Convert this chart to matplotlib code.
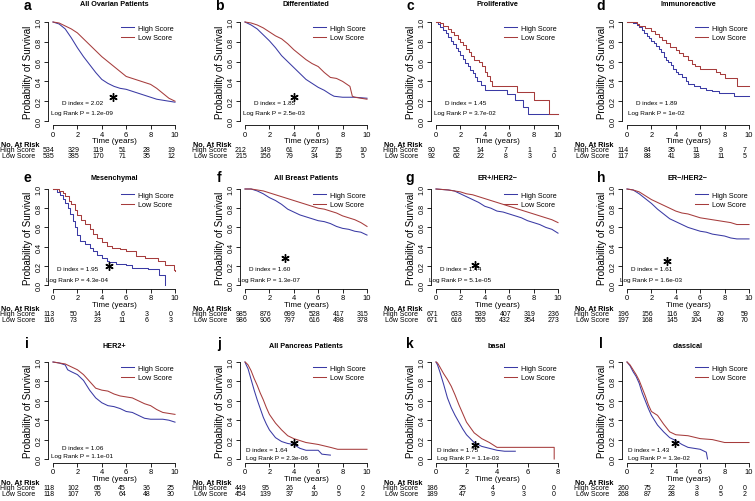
import numpy as np
import matplotlib.pyplot as plt
from matplotlib import transforms

plt.rcParams['font.family'] = ['Liberation Sans', 'DejaVu Sans']

W, H = 755, 502

# ---- data -----------------------------------------------------------------
letters = list('abcdefghijkl')
titles = ['All Ovarian Patients', 'Differentiated', 'Proliferative', 'Immunoreactive',
          'Mesenchymal', 'All Breast Patients', 'ER+/HER2\u2212', 'ER\u2212/HER2\u2212',
          'HER2+', 'All Pancreas Patients', 'basal', 'classical']
d_index = ['2.02', '1.85', '1.45', '1.89', '1.95', '1.60', '1.44', '1.61',
           '1.06', '1.64', '1.75', '1.43']
p_logrank = ['1.2e-09', '2.5e-03', '3.7e-02', '1e-02', '4.3e-04', '1.3e-07',
             '5.1e-05', '1.6e-03', '1.1e-01', '2.3e-06', '1.1e-03', '1.3e-02']
max_time = [10, 10, 10, 10, 10, 10, 10, 10, 10, 10, 8, 10]

risk_high = [[534, 329, 119, 51, 28, 19], [212, 149, 61, 27, 15, 10],
             [90, 52, 14, 7, 1, 1], [114, 84, 35, 11, 9, 7],
             [113, 50, 14, 6, 3, 0], [985, 876, 699, 528, 417, 315],
             [671, 633, 539, 407, 319, 236], [196, 156, 116, 92, 70, 59],
             [118, 102, 65, 45, 36, 25], [449, 95, 26, 4, 0, 0],
             [186, 25, 4, 0, 0], [260, 75, 22, 3, 0, 0]]
risk_low = [[535, 385, 170, 71, 35, 12], [215, 156, 79, 34, 15, 5],
            [92, 62, 22, 8, 3, 0], [117, 88, 41, 18, 11, 5],
            [116, 73, 23, 11, 6, 3], [986, 906, 797, 616, 498, 378],
            [671, 616, 555, 432, 354, 273], [197, 168, 145, 104, 88, 70],
            [118, 107, 76, 64, 48, 30], [454, 139, 37, 10, 5, 2],
            [189, 47, 9, 3, 0], [268, 87, 28, 8, 5, 2]]

# survival curves: (time, survival)
high_a = [(0, 1.0), (0.5, 0.98), (1, 0.93), (1.5, 0.84), (2, 0.74), (2.5, 0.65), (3, 0.57),
          (3.5, 0.49), (4, 0.42), (4.5, 0.38), (5, 0.35), (5.5, 0.33), (6, 0.32), (6.5, 0.30),
          (7, 0.28), (7.5, 0.26), (8, 0.24), (8.5, 0.22), (9, 0.21), (9.5, 0.20), (10, 0.19)]
low_a = [(0, 1.0), (0.5, 0.99), (1, 0.96), (1.5, 0.93), (2, 0.89), (2.5, 0.83), (3, 0.77),
         (3.5, 0.71), (4, 0.65), (4.5, 0.60), (5, 0.55), (5.5, 0.50), (6, 0.45), (6.5, 0.43),
         (7, 0.41), (7.5, 0.39), (8, 0.37), (8.5, 0.33), (9, 0.28), (9.5, 0.23), (10, 0.20)]
high_b = [(0, 1.0), (0.5, 0.97), (1, 0.93), (1.5, 0.87), (2, 0.81), (2.5, 0.74), (3, 0.66),
          (3.5, 0.60), (4, 0.54), (4.5, 0.48), (5, 0.42), (5.5, 0.38), (6, 0.34), (6.5, 0.31),
          (7, 0.27), (7.3, 0.25), (8, 0.24), (9, 0.24), (10, 0.23)]
low_b = [(0, 1.0), (0.5, 0.99), (1, 0.97), (1.5, 0.94), (2, 0.90), (2.5, 0.86), (3, 0.83),
         (3.5, 0.78), (4, 0.72), (4.5, 0.67), (5, 0.62), (5.5, 0.58), (6, 0.55), (6.5, 0.49),
         (7, 0.44), (7.5, 0.43), (8, 0.40), (8.6, 0.35), (8.8, 0.25), (9, 0.24), (10, 0.22)]
high_c = [(0, 1.0), (0.15, 0.98), (0.3, 0.95), (0.6, 0.92), (0.8, 0.89), (1.0, 0.85),
          (1.2, 0.81), (1.4, 0.78), (1.6, 0.74), (1.8, 0.71), (2.0, 0.67), (2.2, 0.63),
          (2.4, 0.59), (2.6, 0.56), (2.8, 0.52), (3.0, 0.48), (3.2, 0.44), (3.4, 0.40),
          (3.7, 0.36), (4.0, 0.31), (5.8, 0.27), (6.5, 0.21), (7.1, 0.14), (7.5, 0.07), (10, 0.07)]
low_c = [(0, 1.0), (0.3, 0.99), (0.6, 0.96), (1.0, 0.93), (1.2, 0.90), (1.5, 0.87),
         (1.8, 0.83), (2.0, 0.80), (2.2, 0.77), (2.5, 0.73), (2.7, 0.70), (2.9, 0.66),
         (3.1, 0.62), (3.5, 0.60), (3.8, 0.56), (4.0, 0.50), (4.2, 0.45), (4.4, 0.40),
         (4.6, 0.35), (6.6, 0.29), (8.0, 0.21), (9.3, 0.07), (10, 0.07)]
high_d = [(0, 1.0), (0.5, 0.99), (0.8, 0.97), (1.0, 0.95), (1.2, 0.92), (1.4, 0.89),
          (1.6, 0.86), (1.8, 0.84), (2.0, 0.81), (2.2, 0.79), (2.4, 0.76), (2.6, 0.73),
          (2.8, 0.70), (3.0, 0.65), (3.2, 0.62), (3.4, 0.60), (3.6, 0.57), (3.8, 0.53),
          (4.0, 0.50), (4.2, 0.47), (4.5, 0.44), (4.8, 0.40), (5.0, 0.37), (5.5, 0.35),
          (6.0, 0.33), (6.5, 0.31), (7.0, 0.30), (7.5, 0.28), (8.8, 0.25), (10, 0.25)]
low_d = [(0, 1.0), (0.8, 0.98), (1.0, 0.96), (1.5, 0.94), (2.0, 0.91), (2.3, 0.88),
         (2.6, 0.85), (2.9, 0.82), (3.2, 0.79), (3.5, 0.75), (4.0, 0.72), (4.3, 0.69),
         (4.6, 0.66), (5.0, 0.62), (5.3, 0.58), (5.6, 0.56), (6.0, 0.53), (7.3, 0.50),
         (7.6, 0.47), (8.0, 0.43), (9.0, 0.35), (10, 0.35)]
high_e = [(0, 1.0), (0.3, 0.97), (0.6, 0.94), (0.8, 0.90), (1.0, 0.85), (1.2, 0.80),
          (1.4, 0.74), (1.6, 0.67), (1.8, 0.60), (2.0, 0.52), (2.2, 0.46), (2.6, 0.43),
          (3.0, 0.39), (3.3, 0.35), (3.6, 0.31), (4.0, 0.28), (4.4, 0.25), (4.6, 0.24),
          (5.2, 0.22), (6.0, 0.21), (6.5, 0.18), (7.8, 0.17), (8.7, 0.10), (9.2, 0.0)]
low_e = [(0, 1.0), (0.5, 0.98), (0.8, 0.96), (1.0, 0.93), (1.3, 0.88), (1.5, 0.84),
         (1.8, 0.78), (2.0, 0.73), (2.3, 0.68), (2.6, 0.64), (3.0, 0.58), (3.3, 0.53),
         (3.6, 0.49), (4.0, 0.45), (4.4, 0.41), (4.8, 0.39), (5.5, 0.37), (6.0, 0.35),
         (6.8, 0.30), (7.5, 0.28), (8.6, 0.25), (9.2, 0.21), (9.9, 0.16), (10, 0.15)]
high_f = [(0, 1.0), (0.5, 1.0), (1, 0.98), (1.5, 0.95), (2, 0.91), (2.5, 0.88), (3, 0.84),
          (3.5, 0.79), (4, 0.76), (4.5, 0.73), (5, 0.71), (5.5, 0.69), (6, 0.67), (6.5, 0.66),
          (7, 0.64), (7.5, 0.61), (8, 0.59), (8.5, 0.58), (9, 0.56), (9.5, 0.55), (10, 0.52)]
low_f = [(0, 1.0), (0.5, 1.0), (1, 0.99), (1.5, 0.98), (2, 0.96), (2.5, 0.94), (3, 0.92),
         (3.5, 0.90), (4, 0.88), (4.5, 0.86), (5, 0.84), (5.5, 0.82), (6, 0.80), (6.5, 0.79),
         (7, 0.77), (7.5, 0.75), (8, 0.72), (8.5, 0.70), (9, 0.68), (9.5, 0.65), (10, 0.61)]
high_g = [(0, 1.0), (1, 0.99), (1.5, 0.98), (2, 0.95), (2.5, 0.92), (3, 0.89), (3.5, 0.86),
          (4, 0.82), (4.5, 0.80), (5, 0.77), (5.5, 0.76), (6, 0.74), (6.5, 0.72), (7, 0.70),
          (7.5, 0.67), (8, 0.65), (8.5, 0.63), (9, 0.60), (9.5, 0.58), (10, 0.54)]
low_g = [(0, 1.0), (1, 0.99), (1.5, 0.98), (2, 0.97), (2.5, 0.95), (3, 0.94), (3.5, 0.92),
         (4, 0.90), (4.5, 0.88), (5, 0.86), (5.5, 0.84), (6, 0.82), (6.5, 0.80), (7, 0.78),
         (7.5, 0.76), (8, 0.74), (8.5, 0.72), (9, 0.70), (9.5, 0.68), (10, 0.65)]
high_h = [(0, 1.0), (0.5, 0.99), (1, 0.95), (1.5, 0.90), (2, 0.85), (2.5, 0.79), (3, 0.74),
          (3.5, 0.69), (4, 0.66), (4.5, 0.63), (5, 0.60), (5.5, 0.58), (6, 0.56), (6.5, 0.55),
          (7, 0.53), (7.5, 0.52), (8, 0.51), (8.5, 0.49), (9, 0.48), (10, 0.48)]
low_h = [(0, 1.0), (0.5, 0.99), (1, 0.97), (1.5, 0.93), (2, 0.89), (2.5, 0.86), (3, 0.83),
         (3.5, 0.80), (4, 0.77), (4.5, 0.75), (5, 0.74), (5.5, 0.72), (6, 0.70), (6.5, 0.69),
         (7, 0.68), (7.5, 0.67), (8, 0.66), (8.5, 0.65), (9, 0.63), (10, 0.63)]
high_i = [(0, 1.0), (0.5, 0.99), (1, 0.97), (1.2, 0.92), (1.5, 0.90), (2, 0.87), (2.5, 0.81),
          (3, 0.71), (3.5, 0.63), (4, 0.58), (4.5, 0.55), (5, 0.54), (5.5, 0.52), (6, 0.49),
          (6.5, 0.48), (7, 0.45), (7.5, 0.42), (8, 0.41), (9, 0.41), (9.5, 0.40), (10, 0.38)]
low_i = [(0, 1.0), (0.5, 0.99), (1, 0.98), (1.5, 0.95), (2, 0.92), (2.5, 0.87), (3, 0.80),
         (3.5, 0.73), (4, 0.71), (4.5, 0.70), (5, 0.67), (5.5, 0.65), (6, 0.64), (6.5, 0.63),
         (7, 0.60), (7.5, 0.57), (8, 0.55), (8.5, 0.51), (9, 0.48), (9.5, 0.47), (10, 0.46)]
high_j = [(0, 1.0), (0.1, 0.97), (0.25, 0.93), (0.5, 0.82), (0.75, 0.71), (1, 0.61),
          (1.25, 0.52), (1.5, 0.43), (1.75, 0.36), (2, 0.30), (2.5, 0.22), (3, 0.18),
          (3.5, 0.16), (4, 0.15), (4.5, 0.11), (5, 0.09), (6, 0.09), (6.3, 0.05), (7, 0.04)]
low_j = [(0, 1.0), (0.1, 0.99), (0.25, 0.97), (0.5, 0.91), (0.75, 0.83), (1, 0.76),
         (1.25, 0.68), (1.5, 0.61), (1.75, 0.53), (2, 0.46), (2.5, 0.37), (3, 0.30),
         (3.5, 0.24), (4, 0.21), (4.5, 0.19), (5, 0.17), (6, 0.15), (7, 0.12), (7.6, 0.10),
         (10, 0.10)]
high_k = [(0, 1.0), (0.1, 0.97), (0.25, 0.90), (0.5, 0.77), (0.75, 0.63), (1, 0.53),
          (1.25, 0.45), (1.5, 0.38), (1.75, 0.31), (2, 0.25), (2.5, 0.17), (3, 0.13),
          (3.5, 0.11), (4, 0.09), (4.5, 0.08), (5.2, 0.08)]
low_k = [(0, 1.0), (0.1, 0.99), (0.25, 0.95), (0.5, 0.88), (0.75, 0.82), (1, 0.75),
         (1.25, 0.66), (1.5, 0.56), (1.75, 0.47), (2, 0.38), (2.5, 0.27), (3, 0.21),
         (3.5, 0.17), (4, 0.12), (7.75, 0.12), (7.75, 0.0)]
high_l = [(0, 1.0), (0.25, 0.96), (0.5, 0.90), (0.75, 0.85), (1, 0.78), (1.25, 0.68),
          (1.5, 0.60), (1.75, 0.52), (2, 0.45), (2.5, 0.35), (3, 0.28), (3.5, 0.22),
          (4, 0.19), (4.5, 0.15), (5, 0.12), (5.5, 0.11), (6, 0.10), (6.5, 0.07), (6.6, 0.0)]
low_l = [(0, 1.0), (0.25, 0.97), (0.5, 0.92), (0.75, 0.87), (1, 0.81), (1.25, 0.73),
         (1.5, 0.65), (1.75, 0.56), (2, 0.49), (2.5, 0.45), (3, 0.36), (3.5, 0.28),
         (4, 0.25), (5, 0.24), (6, 0.21), (7, 0.20), (8, 0.17), (10, 0.17)]

high_curves = [high_a, high_b, high_c, high_d, high_e, high_f,
               high_g, high_h, high_i, high_j, high_k, high_l]
low_curves = [low_a, low_b, low_c, low_d, low_e, low_f,
              low_g, low_h, low_i, low_j, low_k, low_l]
stepped = [False, False, True, True, True, False, False, False, False, False, False, False]

# asterisk marks (time, survival); None where absent
star_at = [(4.9, 0.24), (4.0, 0.24), None, None, (4.6, 0.20), (3.3, 0.28),
           (3.2, 0.21), (3.3, 0.25), None, (4.0, 0.16), (2.56, 0.14), (3.97, 0.165)]

# ---- layout (pixels) --------------------------------------------------------
col_x0 = [53, 245, 436, 627]
col_w = 122
row_top = [23, 190, 363]
row_h = [99, 96, 97]
title_y = [5, 178, 346]
letter_base = [10, 182, 348]

BLUE = '#3a3aa4'
RED = '#a63c3c'
FS = 5.2

fig = plt.figure(figsize=(W / 100, H / 100), dpi=100)


def fy(ypx):
    return 1 - ypx / H


for k in range(12):
    r, c = divmod(k, 4)
    xmax = max_time[k]
    x0 = col_x0[c]
    top, hh = row_top[r], row_h[r]
    left = x0 - 0.04 * col_w
    bottom = top + hh + 0.04 * hh
    ax = fig.add_axes([left / W, fy(bottom), 1.08 * col_w / W, 1.08 * hh / H])
    ax.set_xlim(-0.04 * xmax, 1.04 * xmax)
    ax.set_ylim(-0.04, 1.04)

    ds = 'steps-post' if stepped[k] else 'default'
    th, sh = zip(*high_curves[k])
    tl, sl = zip(*low_curves[k])
    ax.plot(th, sh, color=BLUE, lw=0.75, drawstyle=ds, label='High Score')
    ax.plot(tl, sl, color=RED, lw=0.75, drawstyle=ds, label='Low Score')

    for s in ['top', 'right']:
        ax.spines[s].set_visible(False)
    ax.spines['left'].set_bounds(0, 1)
    ax.spines['bottom'].set_bounds(0, xmax)
    for s in ['left', 'bottom']:
        ax.spines[s].set_linewidth(0.6)

    xt = np.arange(0, xmax + 1, 2)
    ax.set_xticks(xt)
    ax.set_xticklabels([str(v) for v in xt], fontsize=5.4)
    yt = np.arange(0, 1.01, 0.2)
    ax.set_yticks(yt)
    ax.set_yticklabels(['%.1f' % v for v in yt], fontsize=5.2, rotation=90, va='center')
    ax.tick_params(length=3, width=0.6, pad=1)
    ax.set_xlabel('Time (years)', fontsize=5.8, labelpad=-0.5)
    ax.set_ylabel('Probability of Survival', fontsize=7, labelpad=2)

    ax.legend(loc='upper right', bbox_to_anchor=(1.0, 1.0), frameon=False, fontsize=FS,
              handlelength=1.8, handletextpad=0.5, labelspacing=0.35, borderaxespad=0.5)

    # statistics text
    if r == 0:
        yd, yl, xc, ha = 0.19, 0.09, 0.24 * xmax, 'center'
    elif r == 1:
        yd, yl, xc, ha = 0.17, 0.06, 0.2 * xmax, 'center'
    elif c == 0:
        yd, yl, xc, ha = 0.12, 0.04, 0.24 * xmax, 'center'
    else:
        yd, yl, xc, ha = 0.10, 0.02, 0.01 * xmax, 'left'
    ax.text(xc, yd, 'D index = ' + d_index[k], fontsize=4.6, ha=ha, va='center')
    ax.text(xc, yl, 'Log Rank P = ' + p_logrank[k], fontsize=4.6, ha=ha, va='center')
    if star_at[k] is not None:
        ax.plot(star_at[k][0], star_at[k][1], marker=(6, 2, 0), ms=6, mew=1.0,
                color='black', clip_on=False)

    # title and panel letter
    fig.text((x0 + col_w / 2) / W, fy(title_y[r]), titles[k], fontsize=5.2,
             fontweight='bold', ha='center', va='center')
    fig.text((x0 - 26) / W, fy(letter_base[r]), letters[k], fontsize=10,
             fontweight='bold', ha='center', va='baseline')

    # risk table
    base = top + hh
    y_hdr, y_hi, y_lo = base + 23.5, base + 29, base + 34.5
    fig.text((x0 - 52) / W, fy(y_hdr), 'No. At Risk', fontsize=5.2, fontweight='bold',
             ha='left', va='center')
    fig.text((x0 - 18) / W, fy(y_hi), 'High Score', fontsize=5, ha='right', va='center')
    fig.text((x0 - 18) / W, fy(y_lo), 'Low Score', fontsize=5, ha='right', va='center')
    tr = transforms.blended_transform_factory(ax.transData, fig.transFigure) + \
        transforms.ScaledTranslation(-4 / 100, 0, fig.dpi_scale_trans)
    for t, nh, nl in zip(xt, risk_high[k], risk_low[k]):
        ax.text(t, fy(y_hi), str(nh), transform=tr, fontsize=5, ha='center', va='center',
                clip_on=False)
        ax.text(t, fy(y_lo), str(nl), transform=tr, fontsize=5, ha='center', va='center',
                clip_on=False)

fig.savefig('out.png', dpi=100)
